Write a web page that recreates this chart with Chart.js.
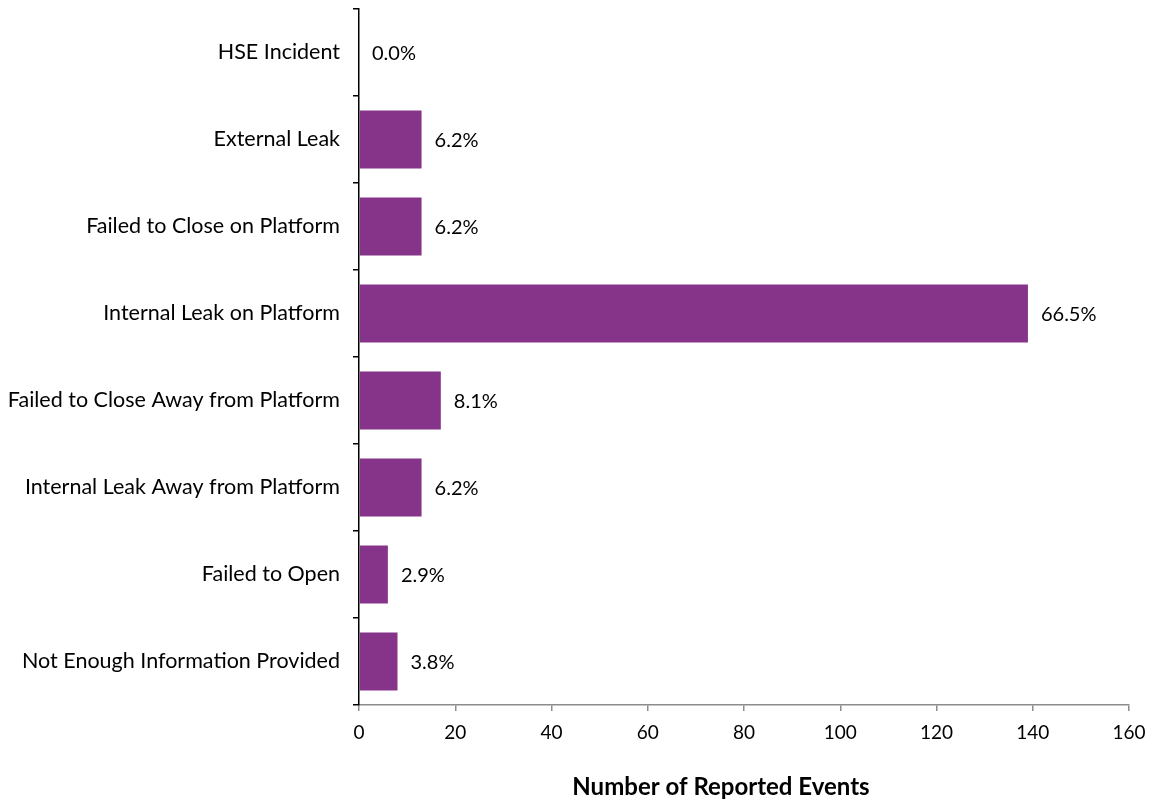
<!DOCTYPE html>
<html>
<head>
<meta charset="utf-8">
<script src="https://cdn.jsdelivr.net/npm/chart.js@4"></script>
<style>
  html, body { margin: 0; padding: 0; background: #fff; }
  #wrap { width: 1152px; height: 802px; position: relative; }
</style>
</head>
<body>
<div id="wrap"><canvas id="c" width="1152" height="802"></canvas></div>
<script>
// Reported failure modes and their event counts
const categories = [
  'HSE Incident',
  'External Leak',
  'Failed to Close on Platform',
  'Internal Leak on Platform',
  'Failed to Close Away from Platform',
  'Internal Leak Away from Platform',
  'Failed to Open',
  'Not Enough Information Provided'
];
const eventCounts = [0, 13, 13, 139, 17, 13, 6, 8];
const xTicks = [0, 20, 40, 60, 80, 100, 120, 140, 160];
const axisTitle = 'Number of Reported Events';

const FONT = 'Lato, "Open Sans", sans-serif';
const total = eventCounts.reduce((a, b) => a + b, 0);

// Share-of-total label at the end of each bar
const shareLabels = {
  id: 'shareLabels',
  afterDatasetsDraw(chart) {
    const ctx = chart.ctx;
    const meta = chart.getDatasetMeta(0);
    ctx.save();
    ctx.font = '20px ' + FONT;
    ctx.fillStyle = '#000';
    ctx.textAlign = 'left';
    ctx.textBaseline = 'middle';
    meta.data.forEach((bar, i) => {
      const pct = (eventCounts[i] / total * 100).toFixed(1) + '%';
      ctx.fillText(pct, bar.x + 13, bar.y + 1);
    });
    ctx.restore();
  }
};

// Bold x-axis title below the tick labels
const xTitle = {
  id: 'xTitle',
  afterDraw(chart) {
    const ctx = chart.ctx;
    const area = chart.chartArea;
    ctx.save();
    ctx.font = 'bold 24px ' + FONT;
    ctx.fillStyle = '#000';
    ctx.textAlign = 'center';
    ctx.textBaseline = 'middle';
    ctx.fillText(axisTitle, (area.left + area.right) / 2 - 23, area.bottom + 82);
    ctx.restore();
  }
};

new Chart(document.getElementById('c'), {
  type: 'bar',
  data: {
    labels: categories,
    datasets: [{
      data: eventCounts,
      backgroundColor: '#853489',
      borderWidth: 0,
      barPercentage: 0.667,
      categoryPercentage: 1
    }]
  },
  options: {
    indexAxis: 'y',
    responsive: false,
    animation: false,
    layout: { padding: { left: 0, right: 23, top: 9, bottom: 0 } },
    plugins: { legend: { display: false }, tooltip: { enabled: false } },
    scales: {
      x: {
        min: 0, max: 160,
        afterBuildTicks(scale) { scale.ticks = xTicks.map(v => ({ value: v })); },
        afterFit(scale) {
          scale.height = 97;
          scale.paddingLeft = 0;
          scale.paddingRight = 0;
        },
        border: { color: '#8c8c8c', width: 1.5 },
        grid: { drawOnChartArea: false, drawTicks: true, tickLength: 6, color: '#8c8c8c', lineWidth: 1.5 },
        ticks: { color: '#000', font: { family: FONT, size: 19 }, padding: 10 }
      },
      y: {
        afterFit(scale) {
          scale.width = 359;
          scale.paddingTop = 0;
          scale.paddingBottom = 0;
        },
        border: { color: '#000', width: 1.5 },
        grid: { drawOnChartArea: false, drawTicks: true, tickLength: 6, color: '#000', lineWidth: 1.5, offset: true },
        ticks: { color: '#000', font: { family: FONT, size: 21.5 }, padding: 13 }
      }
    }
  },
  plugins: [shareLabels, xTitle]
});
</script>
</body>
</html>
